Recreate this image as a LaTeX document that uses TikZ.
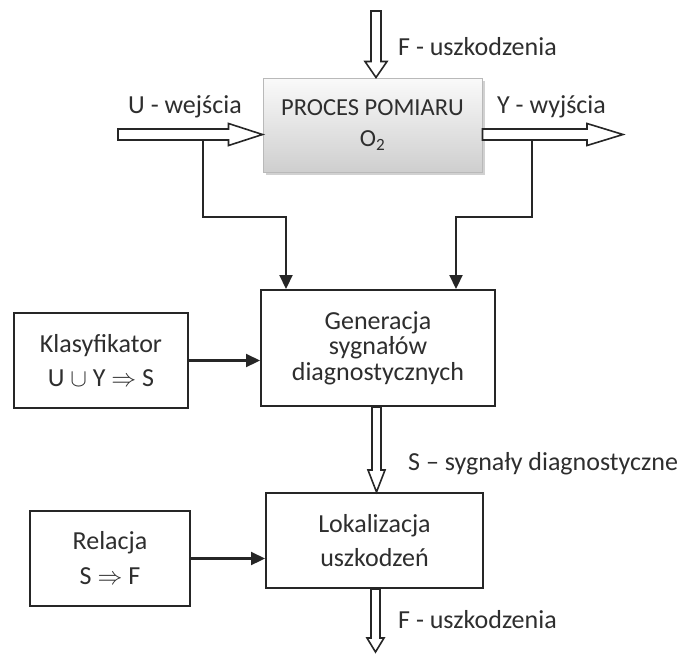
\documentclass[tikz,border=0pt]{standalone}
\usepackage{fontspec}
\setmainfont{Carlito}
\usetikzlibrary{calc,shadows,arrows.meta}
\definecolor{ink}{HTML}{262626}
\definecolor{txt}{HTML}{2E2E2E}
\tikzset{
  box/.style={draw=ink, line width=2pt, fill=white, rectangle, text=txt, align=center, inner sep=0pt},
  conn/.style={draw=ink, line width=2.2pt, -{Triangle[length=14pt,width=13pt]}},
  hollow/.style={draw=ink, line width=1.6pt, fill=white, line join=miter},
  lbl/.style={text=txt, font=\fontsize{26}{30}\selectfont, inner sep=0pt, anchor=base west},
}
\newcommand{\hollowH}[5]{%
  \path[hollow] let \p1=(#1), \p2=(#2) in
  (\x1,\y1+#3pt) -- (\x2-#5pt,\y1+#3pt) -- (\x2-#5pt,\y1+#4pt) -- (\x2,\y1)
  -- (\x2-#5pt,\y1-#4pt) -- (\x2-#5pt,\y1-#3pt) -- (\x1,\y1-#3pt) -- cycle;}
\newcommand{\hollowV}[5]{%
  \path[hollow] let \p1=(#1), \p2=(#2) in
  (\x1-#3pt,\y1) -- (\x1-#3pt,\y2+#5pt) -- (\x1-#4pt,\y2+#5pt) -- (\x1,\y2)
  -- (\x1+#4pt,\y2+#5pt) -- (\x1+#3pt,\y2+#5pt) -- (\x1+#3pt,\y1) -- cycle;}
\begin{document}
\begin{tikzpicture}[x=1pt,y=-1pt]
\useasboundingbox (0,0) rectangle (690,654);

% blocks
\node[box, draw=gray!55, line width=1pt, minimum width=219pt, minimum height=94pt,
      top color=gray!4, bottom color=gray!38,
      drop shadow={shadow xshift=3pt, shadow yshift=-3pt, fill=gray!45, opacity=0.8},
      font=\fontsize{24.5}{31}\selectfont] (proc) at (372.5,125) {PROCES POMIARU\\O\textsubscript{2}};
\node[box, minimum width=234pt, minimum height=116pt, font=\fontsize{26}{25.5}\selectfont]
      (gen) at (378,348) {Generacja\\sygnałów\\diagnostycznych};
\node[box, minimum width=174pt, minimum height=95pt, font=\fontsize{26}{34}\selectfont]
      (klas) at (101,360.5) {Klasyfikator\\U $\cup$ Y $\Rightarrow$ S};
\node[box, minimum width=217pt, minimum height=95pt, font=\fontsize{26}{34}\selectfont]
      (lok) at (374.5,540.5) {Lokalizacja\\uszkodzeń};
\node[box, minimum width=160pt, minimum height=95pt, font=\fontsize{26}{35}\selectfont]
      (rel) at (110,558.5) {Relacja\\S $\Rightarrow$ F};

% helper coordinates
\coordinate (fTop) at (376,11);
\coordinate (uIn) at (118,134.5);
\coordinate (yOut) at (623,134.5);
\coordinate (sx) at (376.5,0);
\coordinate (fOut) at (375.5,652);
\coordinate (uT) at (203,140);
\coordinate (yT) at (532,140);
\coordinate (gl) at (286,0);
\coordinate (gr) at (456,0);

% hollow arrows
\hollowV{fTop}{proc.north -| fTop}{5}{11}{16}
\hollowH{uIn}{proc.west |- uIn}{5.5}{11}{34}
\hollowH{proc.east |- yOut}{yOut}{5.5}{11}{36}
\hollowV{gen.south -| sx}{lok.north -| sx}{4.5}{8.5}{22}
\hollowV{lok.south -| fOut}{fOut}{4.5}{8.5}{14}

% connectors
\draw[conn] (uT) -- ++(0,77) -| (gen.north -| gl);
\draw[conn] (yT) -- ++(0,77) -| (gen.north -| gr);
\draw[conn] (klas.east) -- (klas.east -| gen.west);
\draw[conn] (rel.east) -- (rel.east -| lok.west);

% labels
\node[lbl] (lF) at (398,55) {F - uszkodzenia};
\node[lbl] (lU) at (128,113) {U - wejścia};
\node[lbl] (lY) at (497,113) {Y - wyjścia};
\node[lbl] (lS) at (408,470) {S – sygnały diagnostyczne};
\node[lbl] (lF2) at (398,628) {F - uszkodzenia};
\end{tikzpicture}
\end{document}
